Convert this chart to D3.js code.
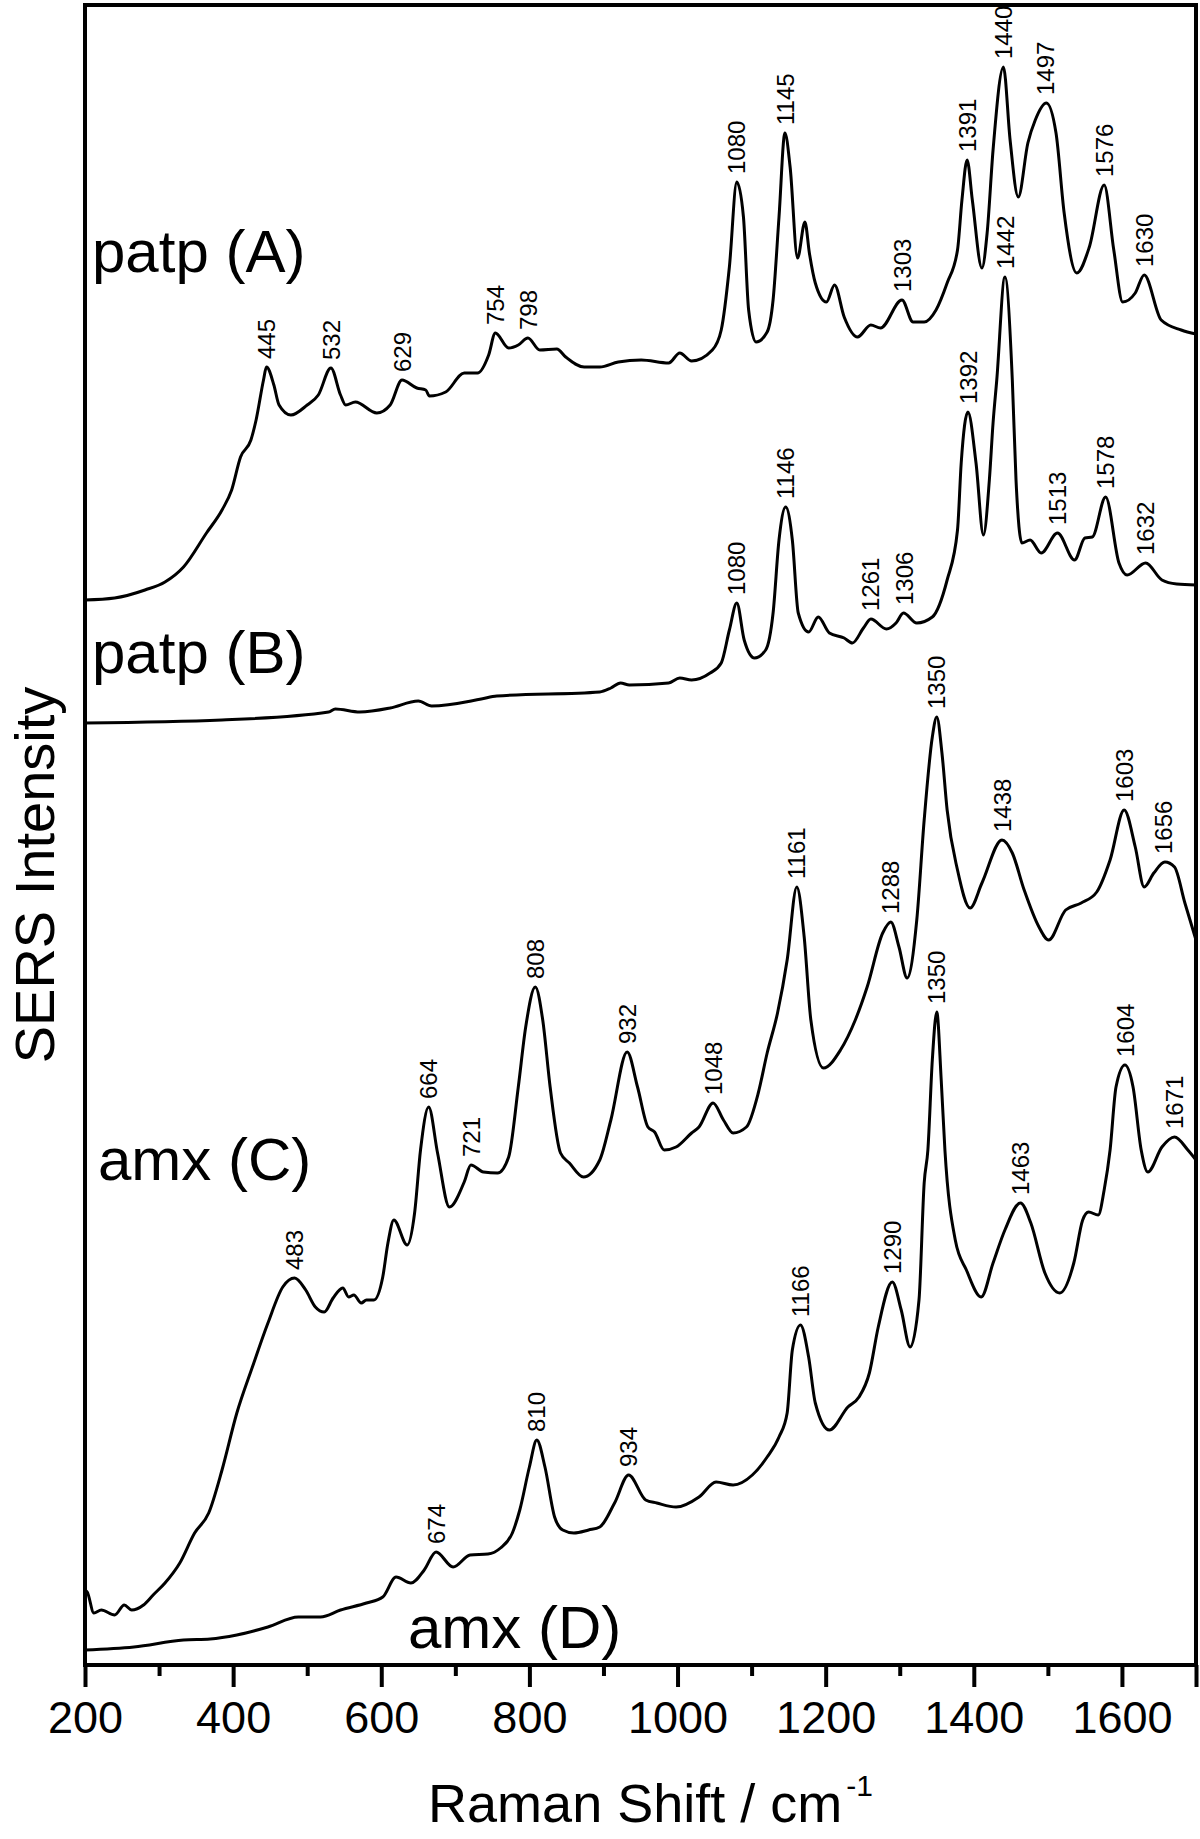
<!DOCTYPE html>
<html>
<head>
<meta charset="utf-8">
<script src="https://cdn.jsdelivr.net/npm/d3@7"></script>
<style>
  body { margin: 0; background: #fff; }
  text { font-family: "Liberation Sans", Arial, Helvetica, sans-serif; fill: #000; }
</style>
</head>
<body>
<div id="chart"></div>
<script>
// spectra: [Raman shift (cm-1), intensity (a.u., offset stacked)]
var patpA = [[200,106.5],[240,106.7],[281,107.5],[308,108.3],[333,109.8],[364,113.2],[385,115.5],[398,117.5],[410,120.8],[424,122.5],[431,124.5],[441,128.5],[445,129.8],[455,128.0],[462,126.0],[478,125.0],[500,126.0],[515,127.0],[532,129.7],[545,127.0],[552,126.0],[565,126.3],[594,125.2],[612,126.0],[628,128.5],[648,127.7],[660,127.5],[665,126.9],[687,127.3],[712,129.2],[730,129.2],[745,131.0],[754,133.2],[772,131.7],[785,132.0],[798,132.7],[814,131.5],[837,131.6],[849,130.8],[874,129.8],[895,129.8],[920,130.3],[951,130.5],[988,130.2],[1003,131.2],[1019,130.4],[1047,131.5],[1059,133.5],[1070,139.8],[1080,148.3],[1089,144.8],[1096,135.5],[1106,132.3],[1121,133.3],[1129,136.5],[1137,144.8],[1145,153.2],[1152,149.8],[1162,140.7],[1172,144.3],[1178,141.2],[1186,138.2],[1201,136.3],[1212,138.0],[1225,134.8],[1243,132.8],[1261,134.0],[1274,133.7],[1303,136.5],[1318,134.3],[1333,134.3],[1349,135.5],[1364,138.2],[1378,141.5],[1384,146.5],[1391,150.5],[1398,146.5],[1411,139.7],[1418,143.2],[1426,151.5],[1440,159.8],[1449,152.5],[1460,146.8],[1473,152.2],[1483,154.5],[1498,156.2],[1511,153.2],[1522,145.2],[1539,139.2],[1556,141.8],[1576,148.0],[1589,141.5],[1601,136.3],[1618,137.2],[1630,139.0],[1653,134.5],[1680,133.5],[1700,133.1]];

var patpB = [[200,94.2],[385,94.5],[529,95.3],[538,95.6],[571,95.3],[612,95.7],[650,96.4],[668,95.9],[735,96.6],[756,96.9],[895,97.3],[910,97.7],[923,98.2],[935,98.0],[988,98.2],[1003,98.7],[1019,98.5],[1044,99.2],[1059,100.2],[1070,103.5],[1080,106.2],[1090,102.5],[1104,100.7],[1119,101.5],[1129,105.2],[1137,112.5],[1146,115.8],[1155,112.5],[1163,105.2],[1177,103.3],[1190,104.8],[1205,103.2],[1225,102.7],[1236,102.2],[1251,103.7],[1261,104.6],[1282,103.6],[1295,104.2],[1305,105.2],[1323,104.2],[1344,104.8],[1364,108.5],[1378,113.5],[1383,120.2],[1392,125.3],[1403,120.2],[1413,113.0],[1421,118.5],[1426,124.2],[1431,128.5],[1442,138.8],[1452,128.5],[1457,118.5],[1465,112.2],[1476,112.5],[1491,111.2],[1513,113.2],[1536,110.5],[1550,112.7],[1560,112.8],[1578,116.8],[1596,110.2],[1607,109.0],[1632,110.2],[1654,108.5],[1674,108.1],[1700,108.0]];

var amxC = [[200,7.5],[203,7.3],[212,5.2],[222,5.5],[240,5.0],[253,6.0],[263,5.5],[279,6.0],[292,7.0],[308,8.2],[328,10.2],[348,13.2],[367,15.2],[385,19.5],[405,25.2],[426,29.8],[447,34.2],[467,37.8],[483,38.7],[498,37.5],[511,35.8],[523,35.3],[535,36.7],[548,37.7],[556,36.8],[563,37.0],[573,36.2],[580,36.5],[590,36.5],[602,38.8],[609,42.2],[617,44.5],[635,42.0],[645,45.2],[653,51.5],[664,55.8],[676,51.2],[692,45.8],[712,48.3],[721,50.0],[738,49.3],[757,49.2],[772,50.8],[785,57.8],[795,63.8],[808,67.8],[818,64.5],[828,57.8],[842,51.2],[854,50.2],[873,48.8],[895,50.5],[910,54.5],[932,61.3],[946,57.8],[960,53.8],[969,53.3],[982,51.5],[998,51.8],[1019,53.2],[1029,53.8],[1048,56.2],[1062,54.5],[1075,53.2],[1093,53.8],[1109,57.2],[1121,61.2],[1135,65.2],[1148,70.5],[1161,77.8],[1171,72.8],[1180,64.5],[1197,59.7],[1220,61.5],[1240,64.5],[1256,67.8],[1277,73.2],[1288,74.3],[1299,71.8],[1310,68.7],[1323,74.5],[1333,84.5],[1344,92.8],[1350,94.8],[1357,91.2],[1364,85.5],[1378,79.5],[1395,75.7],[1411,78.2],[1438,82.5],[1452,81.2],[1468,77.5],[1488,73.8],[1501,72.5],[1524,75.5],[1545,76.2],[1566,77.3],[1584,80.5],[1603,85.5],[1618,81.8],[1630,77.8],[1643,79.2],[1658,80.3],[1671,79.8],[1685,76.2],[1700,72.5]];

var amxD = [[200,1.5],[266,1.8],[333,2.5],[369,2.6],[405,3.0],[447,3.8],[488,4.8],[518,4.8],[545,5.5],[580,6.2],[602,6.8],[620,8.8],[640,8.2],[658,9.5],[674,11.3],[697,9.8],[720,11.0],[744,11.1],[761,11.7],[777,13.2],[787,15.5],[800,19.8],[810,22.5],[821,19.8],[834,14.8],[845,13.5],[860,13.2],[880,13.5],[895,13.8],[915,16.2],[934,19.0],[957,16.5],[972,16.2],[998,15.8],[1029,16.8],[1052,18.3],[1075,18.0],[1101,19.0],[1121,20.8],[1137,22.8],[1148,25.2],[1155,31.5],[1166,34.0],[1177,30.8],[1186,26.2],[1205,23.5],[1230,25.8],[1245,26.8],[1259,29.2],[1271,33.8],[1290,38.3],[1302,35.5],[1314,31.8],[1326,36.5],[1333,48.2],[1338,51.5],[1344,60.5],[1350,65.3],[1356,58.5],[1361,51.5],[1375,42.5],[1390,39.5],[1410,36.8],[1426,40.2],[1442,43.5],[1463,46.2],[1477,44.2],[1496,39.2],[1516,37.2],[1535,40.2],[1547,44.5],[1555,45.3],[1568,45.0],[1576,47.5],[1584,51.5],[1592,57.8],[1604,60.0],[1615,57.8],[1626,51.5],[1635,49.3],[1654,51.8],[1671,52.8],[1689,51.5],[1700,50.5]];

// peak labels for each spectrum
var peaksA = [445, 532, 629, 754, 798, 1080, 1145, 1303, 1391, 1440, 1497, 1576, 1630];
var peaksB = [1080, 1146, 1261, 1306, 1392, 1442, 1513, 1578, 1632];
var peaksC = [483, 664, 721, 808, 932, 1048, 1161, 1288, 1350, 1438, 1603, 1656];
var peaksD = [674, 810, 934, 1166, 1290, 1350, 1463, 1604, 1671];

var names = ["patp (A)", "patp (B)", "amx (C)", "amx (D)"];
var xTicks = [200, 400, 600, 800, 1000, 1200, 1400, 1600];

// set the dimensions and margins of the graph
var margin = {top: 5, right: 4, bottom: 174, left: 85},
    width = 1200 - margin.left - margin.right,
    height = 1839 - margin.top - margin.bottom;

var svg = d3.select("#chart")
  .append("svg")
    .attr("width", 1200)
    .attr("height", 1839)
  .append("g")
    .attr("transform", "translate(" + margin.left + "," + margin.top + ")");

var x = d3.scaleLinear().domain([200, 1700]).range([0, width]);
var y = d3.scaleLinear().domain([0, 166]).range([height, 0]);

var line = d3.line()
    .x(function(d) { return x(d[0]); })
    .y(function(d) { return y(d[1]); })
    .curve(d3.curveMonotoneX);

// label positions for the spectrum names (pixels inside the plot)
var series = [
  {data: patpA, peaks: peaksA, name: names[0], lx: 7,   ly: 267},
  {data: patpB, peaks: peaksB, name: names[1], lx: 7,   ly: 668},
  {data: amxC,  peaks: peaksC, name: names[2], lx: 13,  ly: 1175},
  {data: amxD,  peaks: peaksD, name: names[3], lx: 323, ly: 1643}
];

// spectra
svg.selectAll(".spec")
  .data(series)
  .enter().append("path")
    .attr("class", "spec")
    .attr("d", function(d) { return line(d.data); })
    .attr("fill", "none")
    .attr("stroke", "#000")
    .attr("stroke-width", 3)
    .attr("stroke-linejoin", "round");

// highest point of a spectrum near a labelled position
function peakHeight(data, pos) {
  var near = data.filter(function(d) { return Math.abs(d[0] - pos) <= 10; });
  return d3.max(near, function(d) { return d[1]; });
}

series.forEach(function(s) {
  svg.selectAll(null)
    .data(s.peaks)
    .enter().append("text")
      .attr("transform", function(p) {
        return "translate(" + x(p) + "," + (y(peakHeight(s.data, p)) - 8) + ") rotate(-90)";
      })
      .attr("dy", "0.36em")
      .style("font-size", "24px")
      .text(function(p) { return p; });

  svg.append("text")
    .attr("x", s.lx)
    .attr("y", s.ly)
    .style("font-size", "60px")
    .text(s.name);
});

// frame
svg.append("rect")
  .attr("width", width)
  .attr("height", height)
  .attr("fill", "none")
  .attr("stroke", "#000")
  .attr("stroke-width", 4);

// X axis: minor ticks then major ticks with labels
var minor = svg.append("g")
  .attr("transform", "translate(0," + height + ")")
  .call(d3.axisBottom(x).tickValues(d3.range(300, 1700, 200)).tickSize(11).tickSizeOuter(0).tickFormat(""));
var major = svg.append("g")
  .attr("transform", "translate(0," + height + ")")
  .call(d3.axisBottom(x).tickValues(xTicks.concat([1700])).tickSize(22).tickSizeOuter(0).tickPadding(14)
        .tickFormat(function(d) { return d === 1700 ? "" : d; }));
[minor, major].forEach(function(g) {
  g.select(".domain").remove();
  g.selectAll(".tick line").attr("stroke", "#000").attr("stroke-width", 4);
});
major.selectAll(".tick text")
  .attr("fill", "#000")
  .style("font-family", "'Liberation Sans', Arial, sans-serif")
  .style("font-size", "45px");

// axis titles
var xt = svg.append("text")
  .attr("x", width / 2 + 10)
  .attr("y", 1822 - margin.top)
  .attr("text-anchor", "middle")
  .style("font-size", "54px")
  .text("Raman Shift / cm");
xt.append("tspan")
  .attr("dx", 4)
  .attr("dy", -26)
  .style("font-size", "30px")
  .text("-1");

svg.append("text")
  .attr("transform", "translate(" + (54 - margin.left) + "," + (height / 2 + 40) + ") rotate(-90)")
  .attr("text-anchor", "middle")
  .style("font-size", "56px")
  .text("SERS Intensity");
</script>
</body>
</html>
